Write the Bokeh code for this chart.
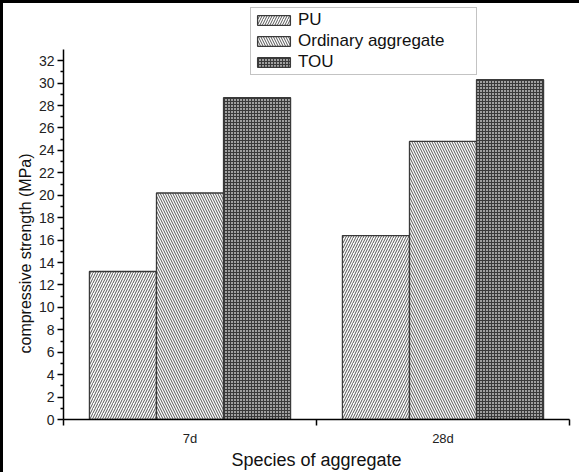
from bokeh.plotting import figure
from bokeh.models import ColumnDataSource, FixedTicker, Legend, LegendItem, Title
from bokeh.transform import dodge
from bokeh.embed import file_html
from bokeh.resources import INLINE

# ---- data ----
ages = ["7d", "28d"]
age_pos = [1, 2]
pu = [13.2, 16.4]
ordinary = [20.2, 24.8]
tou = [28.7, 30.3]
series_names = ["PU", "Ordinary aggregate", "TOU"]
y_ticks = list(range(0, 33, 2))
y_axis_top = 33

src = ColumnDataSource(dict(x=age_pos, pu=pu, ordinary=ordinary, tou=tou))

# frame extends above the axis so that the legend (drawn inside the frame) is not clipped
p = figure(width=571, height=473, output_backend="svg", toolbar_location=None,
           x_range=(0.5, 2.5), y_range=(0, 37.1),
           min_border_left=60, min_border_right=5, min_border_top=0, min_border_bottom=57)
p.outline_line_color = None
p.border_fill_color = None
p.background_fill_color = None
p.xgrid.visible = False
p.ygrid.visible = False

w = 0.265
common = dict(width=w, line_color="#3a3a3a", line_width=1.3, source=src)
r1 = p.vbar(x=dodge("x", -w, range=p.x_range), top="pu", fill_color="white",
            hatch_pattern="right_diagonal_line", hatch_scale=5, hatch_weight=1.0,
            hatch_color="#555555", **common)
r2 = p.vbar(x=dodge("x", 0, range=p.x_range), top="ordinary", fill_color="white",
            hatch_pattern="left_diagonal_line", hatch_scale=5, hatch_weight=1.0,
            hatch_color="#555555", **common)
r3 = p.vbar(x=dodge("x", w, range=p.x_range), top="tou", fill_color="#a0a0a0",
            hatch_pattern="cross", hatch_scale=3, hatch_weight=1.0,
            hatch_color="#3a3a3a", **common)

font = "Liberation Sans"
# x axis
xa = p.xaxis[0]
xa.ticker = FixedTicker(ticks=age_pos, minor_ticks=[0.5, 1.5, 2.5])
xa.major_label_overrides = {1: ages[0], 2: ages[1]}
xa.major_tick_out = 0
xa.major_tick_in = 0
xa.minor_tick_out = 6
xa.minor_tick_in = 0
xa.axis_line_width = 1.5
xa.minor_tick_line_width = 1.5
xa.major_label_standoff = 5
xa.major_label_text_font = font
xa.major_label_text_font_size = "13px"
xa.major_label_text_color = "#222222"
xa.axis_label = "Species of aggregate"
xa.axis_label_text_font = font
xa.axis_label_text_font_size = "18px"
xa.axis_label_text_font_style = "normal"
xa.axis_label_text_color = "#111111"
xa.axis_label_standoff = 1

# y axis
ya = p.yaxis[0]
ya.bounds = (0, y_axis_top)
ya.ticker = FixedTicker(ticks=y_ticks, minor_ticks=list(range(1, 33, 2)))
ya.major_tick_out = 6
ya.major_tick_in = 0
ya.minor_tick_out = 3
ya.minor_tick_in = 0
ya.axis_line_width = 1.5
ya.major_tick_line_width = 1.5
ya.minor_tick_line_width = 1.3
ya.major_label_standoff = 3
ya.major_label_text_font = font
ya.major_label_text_font_size = "14px"
ya.major_label_text_color = "#222222"

# y axis title, centred on the drawn axis (0..33) rather than on the taller frame
ytitle = Title(text="compressive strength (MPa)", align="left", offset=66, standoff=3)
ytitle.text_font = font
ytitle.text_font_size = "16px"
ytitle.text_font_style = "normal"
ytitle.text_color = "#111111"
p.add_layout(ytitle, "left")

legend = Legend(items=[LegendItem(label=series_names[0], renderers=[r1]),
                       LegendItem(label=series_names[1], renderers=[r2]),
                       LegendItem(label=series_names[2], renderers=[r3])],
                location=(187, 344))
legend.label_text_font = font
legend.label_text_font_size = "17px"
legend.label_text_color = "#111111"
legend.glyph_width = 41
legend.glyph_height = 12
legend.label_standoff = 4
legend.label_width = 176
legend.label_height = 17
legend.spacing = 1
legend.padding = 2
legend.margin = 0
legend.border_line_color = "#888888"
legend.border_line_width = 1.2
legend.background_fill_color = "white"
legend.background_fill_alpha = 1
p.add_layout(legend, "center")

html = file_html(p, INLINE)
css = ("<style>html{overflow:hidden}"
       "body{margin:5px 0 0 5px;border-left:3px solid #000;border-top:3px solid #000}</style>")
html = html.replace("<head>", "<head>" + css, 1)
open("out.html", "w").write(html)
